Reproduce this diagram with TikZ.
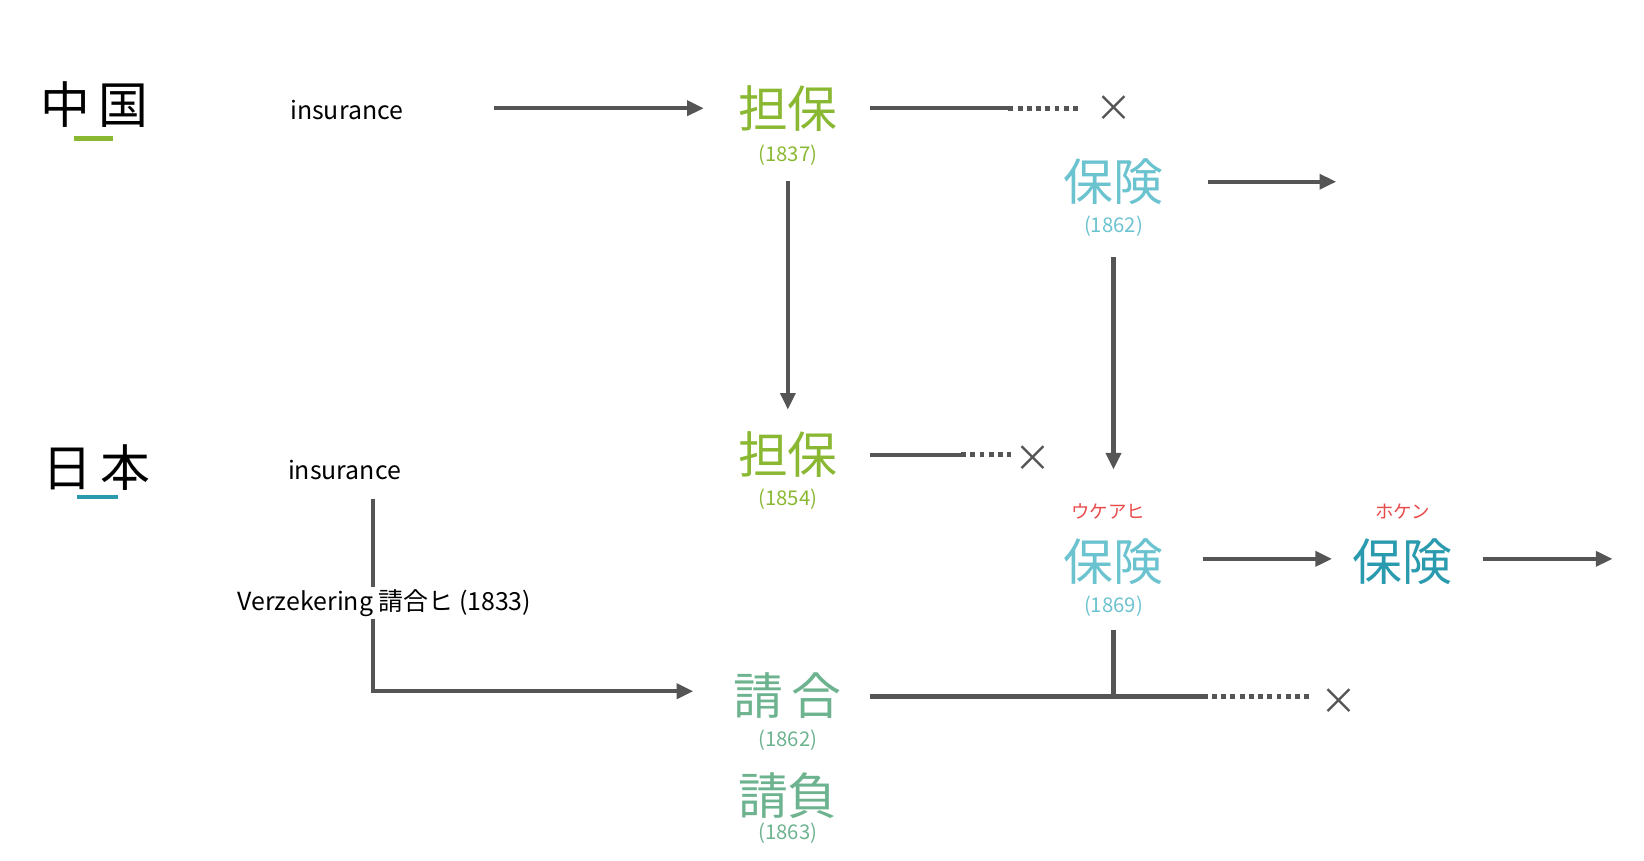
\documentclass[tikz,border=0pt]{standalone}
\usepackage{fontspec}
\setmainfont{Noto Sans CJK JP}
\usetikzlibrary{arrows.meta}
\definecolor{kgreen}{HTML}{8AB833}
\definecolor{kteal}{HTML}{6CC3D0}
\definecolor{kdteal}{HTML}{2A9AAE}
\definecolor{kmint}{HTML}{6DB38F}
\definecolor{kred}{HTML}{E84A4A}
\definecolor{kgray}{HTML}{555555}
\tikzset{
  word/.style={font=\fontsize{27}{30}\selectfont, inner sep=1pt},
  year/.style={font=\fontsize{11}{12}\selectfont, inner sep=1pt},
  latin/.style={font=\fontsize{13.5}{16}\selectfont, inner sep=1pt},
  ruby/.style={font=\fontsize{10}{12}\selectfont, text=kred, inner sep=1pt},
  link/.style={kgray, line width=2.2pt},
  arr/.style={link, -{Triangle[length=9pt,width=8pt]}},
  dots/.style={kgray, line width=2.6pt, dash pattern=on 2.6pt off 2.4pt},
  cross/.style={font=\fontsize{20}{20}\selectfont, text=kgray, inner sep=0pt},
}
\begin{document}
\begin{tikzpicture}[x=0.02cm, y=-0.02cm]
  \useasboundingbox (0,0) rectangle (1565,819);

  % countries
  \node[word] (cn) at (90,100) {中\,国};
  \draw[kgreen, line width=2.5pt] (70,132) -- (108,132);
  \node[word] (jp) at (92,445) {日\,本};
  \draw[kdteal, line width=2.5pt] (73,473) -- (112,473);

  % china row
  \node[latin] (insA) at (330,105) {insurance};
  \node[word, text=kgreen] (tanA) at (750,103) {担保};
  \node[year, text=kgreen] (tanAy) at (750,148) {(1837)};
  \node[cross] (xA) at (1060,103) {×};
  \node[word, text=kteal] (hokA) at (1060,173) {保険};
  \node[year, text=kteal] (hokAy) at (1060,215) {(1862)};
  \coordinate (oA) at (1272,173);

  \draw[arr] (470,103) -- (tanA.west -| 670,0);
  \draw[link] (828,103) -- (960,103) coordinate (dA);
  \draw[dots] (dA) -- (1030,103);
  \draw[arr] (1150,173) -- (oA);
  \draw[arr] (tanAy.south) ++(0,12) -- (750,390);
  \draw[arr] (hokAy.south) ++(0,18) -- (1060,447);

  % japan row
  \node[latin] (insB) at (328,447) {insurance};
  \node[word, text=kgreen] (tanB) at (750,433) {担保};
  \node[year, text=kgreen] (tanBy) at (750,475) {(1854)};
  \node[cross] (xB) at (983,437) {×};
  \draw[link] (828,433) -- (915,433) coordinate (dB);
  \draw[dots] (dB) -- (962,433);

  \node[ruby] (rubA) at (1055,487) {ウケアヒ};
  \node[word, text=kteal] (hokB) at (1060,535) {保険};
  \node[year, text=kteal] (hokBy) at (1060,577) {(1869)};
  \node[ruby] (rubB) at (1335,487) {ホケン};
  \node[word, text=kdteal] (hokC) at (1335,535) {保険};
  \coordinate (oC) at (1535,532);
  \draw[arr] (1145,532) -- (1268,532);
  \draw[arr] (1412,532) -- (oC);

  \node[latin] (verz) at (366,574) {Verzekering 請合ヒ (1833)};
  \draw[link] (355,475) -- (verz.north -| 355,0);
  \draw[arr] (verz.south -| 355,0) -- (355,658) -- (660,658);

  \node[word, text=kmint] (ukeA) at (750,662) {請\,合};
  \node[year, text=kmint] (ukeAy) at (750,705) {(1862)};
  \node[word, text=kmint] (ukeB) at (750,757) {請負};
  \node[year, text=kmint] (ukeBy) at (750,793) {(1863)};
  \node[cross] (xC) at (1275,668) {×};
  \draw[link] (828,663) -- (1145,663) coordinate (dC);
  \draw[dots] (dC) -- (1250,663);
  \draw[link] (1060,600) -- (1060,663);
\end{tikzpicture}
\end{document}
